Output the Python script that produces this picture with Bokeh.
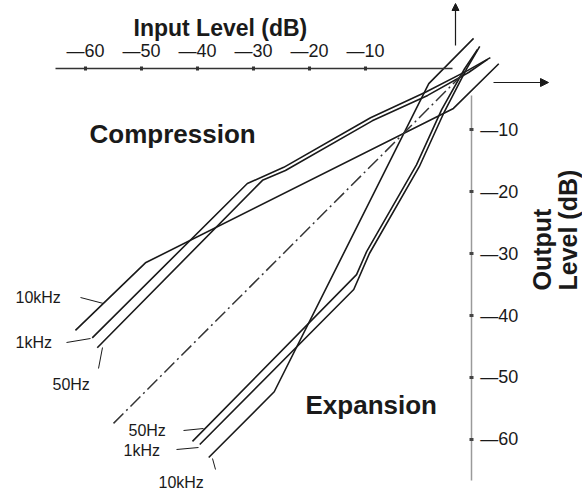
from bokeh.plotting import figure
from bokeh.models import (LinearAxis, FixedTicker, Range1d, Label, Arrow,
                          NormalHead, ColumnDataSource)
from bokeh.embed import file_html
from bokeh.resources import INLINE
import math

# ---------------- data (input level dB, output level dB) ----------------
input_ticks = [-60, -50, -40, -30, -20, -10]
output_ticks = [-10, -20, -30, -40, -50, -60]
input_tick_labels = ["—60", "—50", "—40", "—30", "—20", "—10"]
output_tick_labels = ["—10", "—20", "—30", "—40", "—50", "—60"]

# compression curves
comp_10k_in = [-61.8, -49.3, 5.7, 13.8]
comp_10k_out = [-42.4, -31.5, -6.6, 0.6]
comp_1k_in = [-58.8, -31.1, -24.6, -9.1, 0.7, 8.2, 12.3]
comp_1k_out = [-43.6, -18.7, -16.1, -8.1, -4.0, -0.5, 1.6]
comp_50_in = [-57.9, -28.4, -24.3, -8.8, 1.1, 8.4, 11.8]
comp_50_out = [-45.2, -18.2, -16.6, -8.6, -4.5, -0.8, 1.3]

# expansion curves
exp_10k_in = [-38.0, -26.3, 1.3, 9.3]
exp_10k_out = [-62.9, -52.3, -2.6, 4.7]
exp_1k_in = [-39.6, -12.1, -9.3, -0.4, 4.1, 8.0, 10.4]
exp_1k_out = [-60.8, -35.8, -30.0, -16.0, -7.1, -0.3, 3.4]
exp_50_in = [-40.9, -11.6, -9.8, -0.9, 3.6, 7.7, 10.0]
exp_50_out = [-60.3, -33.4, -29.7, -15.7, -6.8, -0.2, 2.9]

# unity (linear) reference
unity_in = [-55.0, 8.0]
unity_out = [-57.4, -0.5]

W, H = 582, 500
FONT = "Liberation Sans"
INK = "#1a1a1a"

p = figure(width=W, height=H, x_range=Range1d(-75.18, 28.75),
           y_range=Range1d(-69.84, 10.81), x_axis_location=None,
           y_axis_location=None, toolbar_location=None,
           output_backend="svg", min_border=0, outline_line_color=None,
           background_fill_color="white", border_fill_color="white")
for g in p.grid:
    g.visible = False

# ---------------- axes ----------------
xax = LinearAxis(fixed_location=-0.2, bounds=(-65.4, 5.5),
                 ticker=FixedTicker(ticks=input_ticks),
                 major_label_overrides=dict(zip(input_ticks, input_tick_labels)),
                 axis_line_color="#333333", axis_line_width=1.3,
                 major_tick_in=2, major_tick_out=2, major_tick_line_width=3,
                 major_tick_line_color="#333333",
                 minor_tick_line_color=None,
                 major_label_standoff=6,
                 major_label_text_font=FONT, major_label_text_font_size="18px",
                 major_label_text_color=INK)
p.add_layout(xax, "above")

yax = LinearAxis(fixed_location=8.9, bounds=(-66.6, -4.5),
                 ticker=FixedTicker(ticks=output_ticks),
                 major_label_overrides=dict(zip(output_ticks, output_tick_labels)),
                 axis_line_color="#9a9a9a", axis_line_width=1.5,
                 major_tick_in=2, major_tick_out=2, major_tick_line_width=3,
                 major_tick_line_color="#444444",
                 minor_tick_line_color=None,
                 major_label_standoff=7,
                 major_label_text_font=FONT, major_label_text_font_size="18px",
                 major_label_text_color=INK)
p.add_layout(yax, "right")

# ---------------- curves ----------------
curves = ColumnDataSource(data=dict(
    xs=[comp_10k_in, comp_1k_in, comp_50_in, exp_10k_in, exp_1k_in, exp_50_in],
    ys=[comp_10k_out, comp_1k_out, comp_50_out, exp_10k_out, exp_1k_out, exp_50_out],
))
p.multi_line(xs="xs", ys="ys", source=curves, line_color=INK, line_width=1.6)
p.line(unity_in, unity_out, line_color="#333333", line_width=1.5,
       line_dash="14 4 2 4")

# ---------------- axis arrows ----------------
p.add_layout(Arrow(x_start=455, y_start=455, x_end=455, y_end=497,
                   start_units="screen", end_units="screen",
                   line_color=INK, line_width=1.2,
                   end=NormalHead(size=7, fill_color=INK, line_color=INK)))
p.add_layout(Arrow(x_start=493, y_start=418, x_end=548, y_end=418,
                   start_units="screen", end_units="screen",
                   line_color=INK, line_width=1.2,
                   end=NormalHead(size=8, fill_color=INK, line_color=INK)))

# ---------------- texts ----------------
def lab(text, x, y, size, bold=False, angle=0.0, baseline="alphabetic"):
    p.add_layout(Label(text=text, x=x, y=y, x_units="screen", y_units="screen",
                       text_font=FONT, text_font_size=size,
                       text_font_style="bold" if bold else "normal",
                       text_color=INK, angle=angle, text_baseline=baseline,
                       text_align="left"))

lab("Input Level (dB)", 133, 473, "23px", bold=True)
lab("Compression", 89, 367, "26px", bold=True)
lab("Expansion", 305, 96, "26px", bold=True)
lab("Output", 541, 210, "25px", bold=True, angle=math.pi / 2, baseline="middle")
lab("Level (dB)", 567, 210, "25px", bold=True, angle=math.pi / 2, baseline="middle")

freq_labels = [("10kHz", 15, 203), ("1kHz", 15, 158), ("50Hz", 52, 116),
               ("50Hz", 128, 70), ("1kHz", 123, 50), ("10kHz", 158, 18)]
for t, x, y in freq_labels:
    lab(t, x, y, "16px", baseline="middle")

leaders = [(80, 203, 103, 197), (66, 158, 90, 162), (98, 132, 102, 153),
           (183, 70, 203, 72), (176, 51, 198, 53), (215, 31, 212, 42)]
for x0, y0, x1, y1 in leaders:
    p.add_layout(Arrow(x_start=x0, y_start=y0, x_end=x1, y_end=y1,
                       start_units="screen", end_units="screen", end=None,
                       line_color=INK, line_width=1))

open("out.html", "w").write(file_html(p, INLINE))
